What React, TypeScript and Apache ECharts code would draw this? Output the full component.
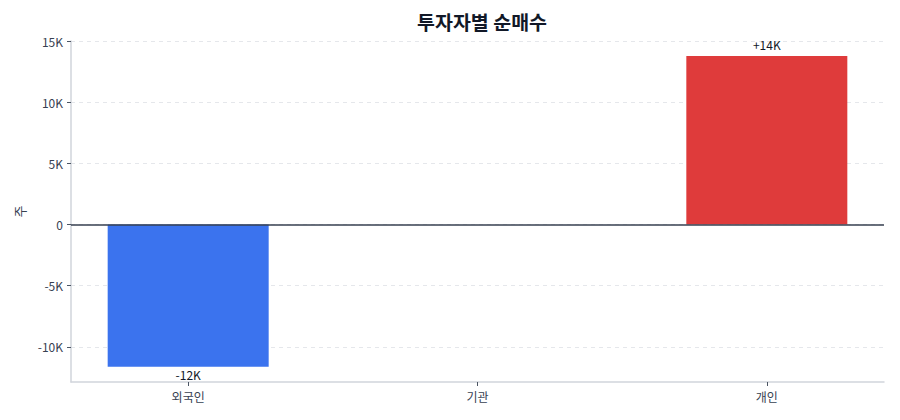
import { useEffect, useRef } from "react";
import * as echarts from "echarts";

const categories = ["외국인", "기관", "개인"];
const netBuy = [-11620, 0, 13770];
const barColors = ["#3b73ee", "#9ca3af", "#df3b3b"];
const yTicks = [-10000, -5000, 0, 5000, 10000, 15000];
const xTicks = [0, 1, 2];
const yMin = -12870;
const yMax = 15000;
const xMin = -0.405;
const xMax = 2.405;

const font = "'Noto Sans CJK KR', 'Noto Sans', sans-serif";

const fmtK = (v: number) => (v === 0 ? "0" : `${v / 1000}K`);

export default function App() {
  const chartRef = useRef<HTMLDivElement>(null);

  useEffect(() => {
    document.body.style.margin = "0";
    if (!chartRef.current) return;
    const chart = echarts.init(chartRef.current, undefined, { renderer: "svg" });

    const option: echarts.EChartsOption = {
      animation: false,
      backgroundColor: "#ffffff",
      textStyle: { fontFamily: font },
      title: {
        text: "투자자별 순매수",
        left: 477,
        textAlign: "center",
        top: 7,
        textStyle: { fontSize: 19.5, fontWeight: "bold", color: "#111827", fontFamily: font },
      },
      grid: { left: 71, right: 16, top: 41, bottom: 38 },
      xAxis: {
        type: "value",
        min: xMin,
        max: xMax,
        axisLine: { show: true, onZero: false, lineStyle: { color: "#d1d5db", width: 1.5 } },
        axisTick: { show: true, length: 4, customValues: xTicks, lineStyle: { color: "#4b5563" } },
        axisLabel: {
          customValues: xTicks,
          color: "#374151",
          fontSize: 12,
          margin: 8,
          fontFamily: font,
          formatter: (v: number) => categories[Math.round(v)] ?? "",
        },
        splitLine: { show: false },
      },
      yAxis: {
        type: "value",
        min: yMin,
        max: yMax,
        name: "주",
        nameLocation: "middle",
        nameGap: 45,
        nameRotate: 90,
        nameTextStyle: { color: "#374151", fontSize: 13, fontFamily: font },
        axisLine: { show: true, onZero: false, lineStyle: { color: "#d1d5db", width: 1.5 } },
        axisTick: { show: true, length: 4, customValues: yTicks, lineStyle: { color: "#4b5563" } },
        axisLabel: {
          customValues: yTicks,
          color: "#374151",
          fontSize: 12,
          margin: 8,
          fontFamily: font,
          formatter: (v: number) => fmtK(v),
        },
        splitLine: { show: true, lineStyle: { color: "#e5e7eb", type: [4, 4] } },
      },
      series: [
        {
          type: "bar",
          barWidth: 161,
          data: netBuy.map((v, i) => ({
            value: [i, v],
            itemStyle: { color: barColors[i] },
            label: {
              show: v !== 0,
              position: v < 0 ? "bottom" : "top",
              distance: v < 0 ? 2 : 6,
            },
          })),
          label: {
            color: "#111827",
            fontSize: 12,
            fontFamily: font,
            formatter: (p: any) => {
              const v = p.value[1] as number;
              const k = Math.round(v / 1000);
              return v > 0 ? `+${k}K` : `${k}K`;
            },
          },
          markLine: {
            silent: true,
            symbol: "none",
            label: { show: false },
            lineStyle: { color: "#374151", width: 1.5, type: "solid" },
            data: [{ yAxis: 0 }],
          },
        },
      ],
    };

    chart.setOption(option);
    return () => chart.dispose();
  }, []);

  return <div ref={chartRef} style={{ width: 900, height: 420 }} />;
}
